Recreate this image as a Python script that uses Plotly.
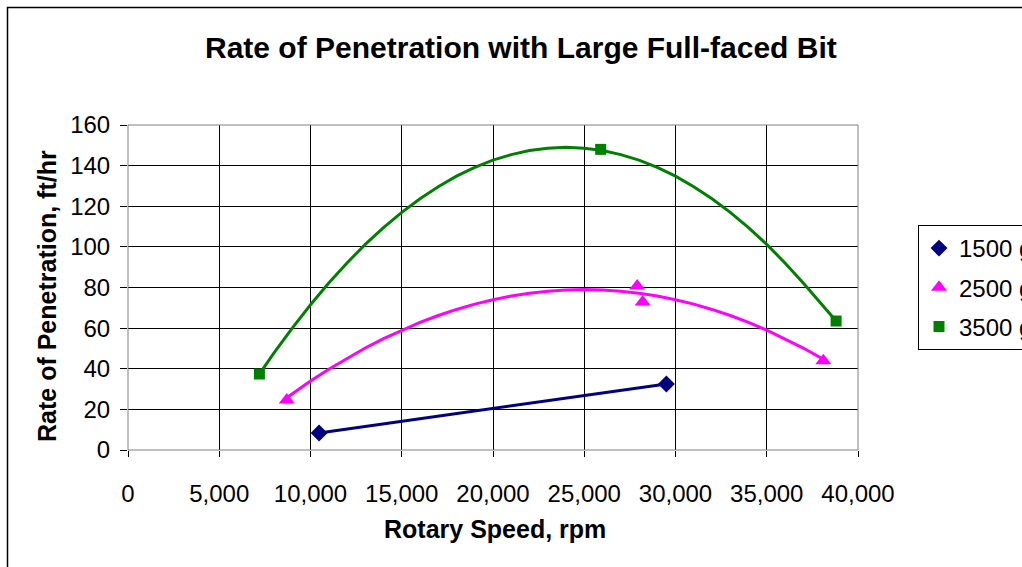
import plotly.graph_objects as go

# ---- data (rpm, ft/hr) ----
rpm_1500 = [10470, 29500]
rop_1500 = [8.4, 32.5]

rpm_2500 = [8700, 27900, 28200, 38100]
rop_2500 = [24.6, 80.8, 72.9, 44.0]

rpm_3500 = [7200, 25900, 38800]
rop_3500 = [37.4, 148.0, 63.5]

# trendline curves
trend_2500_x = [8500, 9000, 10000, 11000, 12000, 13000, 14000, 15000, 16000, 17000, 18000,
                19000, 20000, 21000, 22000, 23000, 24000, 25000, 26000, 27000, 28000,
                29000, 30000, 31000, 32000, 33000, 34000, 35000, 36000, 37000, 38000, 38100]
trend_2500_y = [24.5, 27.8, 34.0, 39.8, 45.2, 50.2, 54.8, 59.0, 62.8, 66.2, 69.2,
                71.8, 74.0, 75.8, 77.2, 78.2, 78.8, 79.0, 78.8, 78.2, 77.2,
                75.8, 74.0, 71.8, 69.2, 66.2, 62.8, 59.0, 54.8, 50.2, 45.2, 44.6]

trend_3500_x = [7200, 8000, 9000, 10000, 11000, 12000, 13000, 14000, 15000, 16000, 17000,
                18000, 19000, 20000, 21000, 22000, 23000, 24000, 25000, 26000, 27000,
                28000, 29000, 30000, 31000, 32000, 33000, 34000, 35000, 36000, 37000,
                38000, 38800]
trend_3500_y = [37.4, 47.8, 60.0, 71.5, 82.2, 92.1, 101.2, 109.5, 117.0, 123.7, 129.6,
                134.8, 139.1, 142.7, 145.4, 147.4, 148.6, 149.0, 148.6, 147.4, 145.4,
                142.7, 139.1, 134.8, 129.6, 123.7, 117.0, 109.5, 101.2, 92.1, 82.2,
                71.5, 63.5]

series_names = ["1500 gpm", "2500 gpm", "3500 gpm"]
x_ticks = [0, 5000, 10000, 15000, 20000, 25000, 30000, 35000, 40000]
y_ticks = [0, 20, 40, 60, 80, 100, 120, 140, 160]

NAVY = "#000080"
MAGENTA = "#FF00FF"
GREEN = "#008000"
FONT = "Liberation Sans, Arial, sans-serif"

fig = go.Figure()

# trend lines
fig.add_trace(go.Scatter(x=rpm_1500, y=rop_1500, mode="lines",
                         line=dict(color=NAVY, width=3), showlegend=False, hoverinfo="skip"))
fig.add_trace(go.Scatter(x=trend_2500_x, y=trend_2500_y, mode="lines",
                         line=dict(color=MAGENTA, width=3), showlegend=False, hoverinfo="skip"))
fig.add_trace(go.Scatter(x=trend_3500_x, y=trend_3500_y, mode="lines",
                         line=dict(color=GREEN, width=3), showlegend=False, hoverinfo="skip"))

# data markers
fig.add_trace(go.Scatter(x=rpm_1500, y=rop_1500, mode="markers", name=series_names[0],
                         legendgroup="a",
                         marker=dict(symbol="diamond", size=13, color=NAVY)))
fig.add_trace(go.Scatter(x=rpm_2500, y=rop_2500, mode="markers", name=series_names[1],
                         legendgroup="b",
                         marker=dict(symbol="triangle-up", size=14, color=MAGENTA)))
fig.add_trace(go.Scatter(x=rpm_3500, y=rop_3500, mode="markers", name=series_names[2],
                         legendgroup="c",
                         marker=dict(symbol="square", size=11, color=GREEN)))

L, R, T, B = 128, 164, 125, 117
W, H = 1022, 567
pw, ph = W - L - R, H - T - B


def px_x(p):
    return (p - L) / pw


def px_y(p):
    return (H - B - p) / ph


fig.update_layout(
    width=W, height=H,
    margin=dict(l=L, r=R, t=T, b=B, pad=0, autoexpand=False),
    paper_bgcolor="white", plot_bgcolor="white",
    font=dict(family=FONT, color="black", size=24),
    showlegend=True,
    legend=dict(x=px_x(918), y=px_y(225), xanchor="left", yanchor="top",
                bgcolor="white", bordercolor="black", borderwidth=1,
                font=dict(size=24, family=FONT), traceorder="grouped",
                tracegroupgap=5),
    xaxis=dict(range=[0, 40000], tickvals=x_ticks, tickformat=",",
               showgrid=True, gridcolor="black", gridwidth=1,
               showline=False, zeroline=False,
               ticks="outside", ticklen=6, tickcolor="black",
               ticklabelstandoff=16,
               tickfont=dict(size=24, family=FONT)),
    yaxis=dict(range=[0, 160], tickvals=y_ticks,
               showgrid=True, gridcolor="black", gridwidth=1,
               showline=False, zeroline=False,
               ticks="outside", ticklen=7, tickcolor="black",
               ticklabelstandoff=5,
               tickfont=dict(size=24, family=FONT)),
    annotations=[
        dict(text="<b>Rate of Penetration with Large Full-faced Bit</b>",
             xref="paper", yref="paper", x=px_x(521), y=px_y(47),
             xanchor="center", yanchor="middle", showarrow=False,
             font=dict(size=30, family=FONT)),
        dict(text="<b>Rotary Speed, rpm</b>",
             xref="paper", yref="paper", x=px_x(495), y=px_y(529),
             xanchor="center", yanchor="middle", showarrow=False,
             font=dict(size=25, family=FONT)),
        dict(text="<b>Rate of Penetration, ft/hr</b>", textangle=-90,
             xref="paper", yref="paper", x=px_x(47), y=px_y(296),
             xanchor="center", yanchor="middle", showarrow=False,
             font=dict(size=25, family=FONT)),
    ],
    shapes=[
        dict(type="rect", xref="paper", yref="paper", x0=0, x1=1, y0=0, y1=1,
             line=dict(color="#808080", width=1), layer="above"),
        dict(type="rect", xref="paper", yref="paper",
             x0=px_x(7.5), x1=1.5, y0=-0.6, y1=px_y(7.5),
             line=dict(color="black", width=1.5), layer="below"),
    ],
)

fig.write_html("out.html")
